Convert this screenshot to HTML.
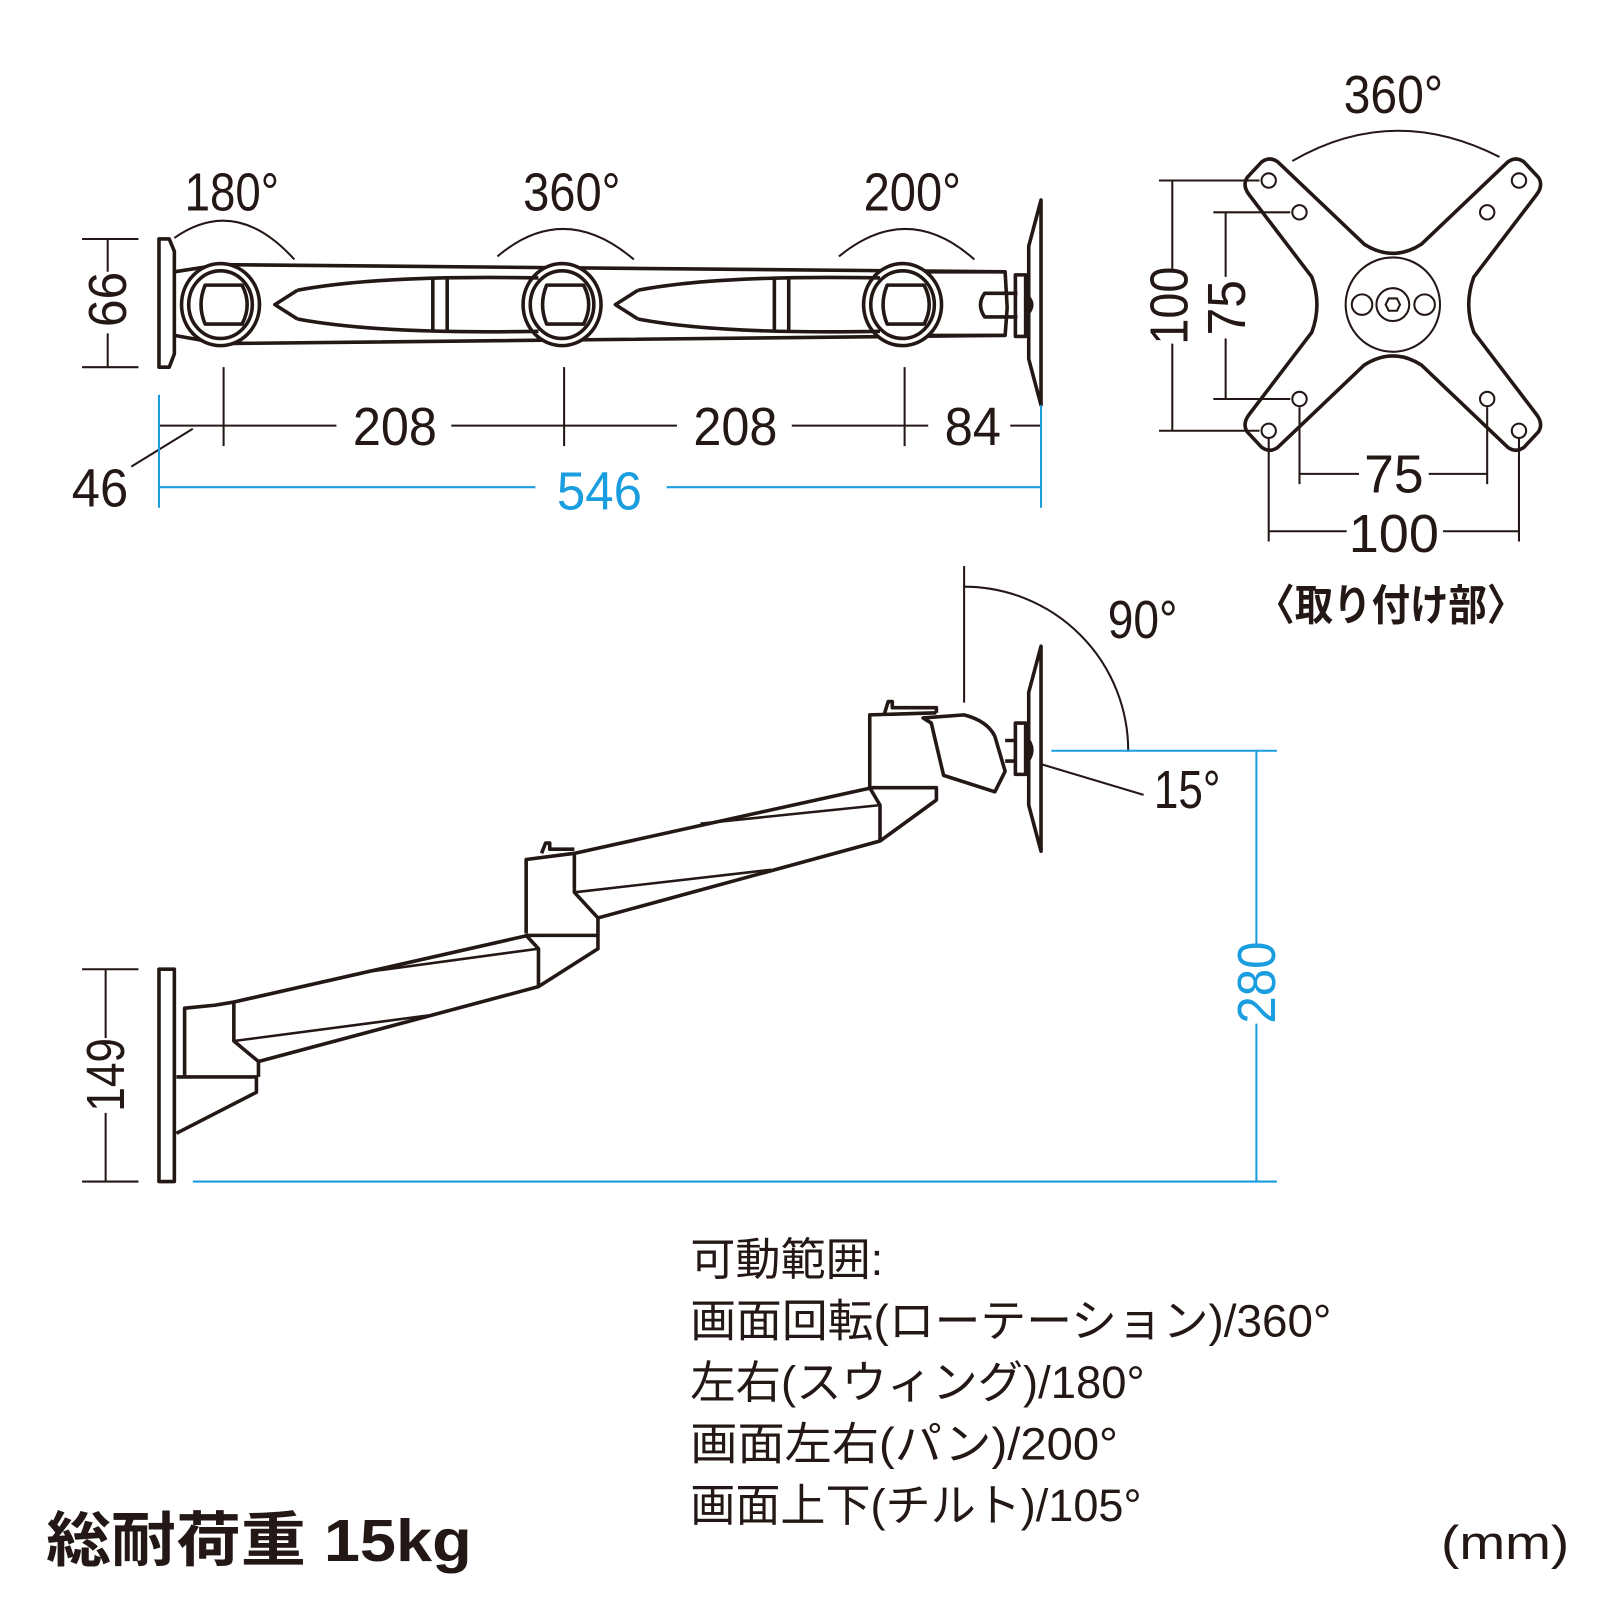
<!DOCTYPE html>
<html><head><meta charset="utf-8"><style>
html,body{margin:0;padding:0;background:#fff}
svg{display:block}
text{font-family:"Liberation Sans","Noto Sans CJK JP",sans-serif;fill:#231815}
.b{fill:#1a9ee0}
</style></head><body>
<svg width="1600" height="1600" viewBox="0 0 1560 1560" xmlns="http://www.w3.org/2000/svg">
<g fill="none" stroke="#231815" stroke-width="2">
<path d="M170,232 Q230,190 287,253"/>
<path d="M485,250 Q550,195 618,253"/>
<path d="M818,250 Q885,195 950,253"/>
<g stroke-width="3.5" stroke-linejoin="round">
<path d="M155,233 L165,233 L170,245 L170,345 L165,358 L155,358 Z"/>
<path d="M170,265 L215,258 L980,265 L982,300 L980,327 L215,335 L170,327"/>
<path d="M980,265 L905,265 M905,327 L980,327"/>
<ellipse cx="215" cy="297" rx="38" ry="40" fill="#fff"/>
<ellipse cx="215" cy="297" rx="31" ry="33"/>
<ellipse cx="548" cy="297" rx="38" ry="40" fill="#fff"/>
<ellipse cx="548" cy="297" rx="31" ry="33"/>
<ellipse cx="880" cy="297" rx="38" ry="40" fill="#fff"/>
<ellipse cx="880" cy="297" rx="31" ry="33"/>
<path d="M200,278 H236 Q246,297 236,316 H200 Q192,297 200,278 Z"/>
<path d="M533,278 H569 Q579,297 569,316 H533 Q525,297 533,278 Z"/>
<path d="M865,278 H901 Q911,297 901,316 H865 Q857,297 865,278 Z"/>
<path d="M290,283 Q370,268 525,271 M290,311 Q370,326 525,323 M290,283 L268,297 L290,311"/>
<path d="M622,283 Q700,268 858,271 M622,311 Q700,326 858,323 M622,283 L600,297 L622,311"/>
<path d="M422,271 V323 M436,271 V323 M755,271 V323 M769,271 V323"/>
<path d="M992,286 H960 Q952,297 960,309 H992"/>
<rect x="990" y="268" width="10" height="60"/>
<path d="M1003,240 L1015,195 V395 L1003,350 Z"/>
<path d="M1000,287 Q1012,297 1000,308"/>
</g>
<path d="M80,233 H135 M80,358 H135 M105,233 V265 M105,325 V358"/>
<path d="M155,415 H328 M440,415 H660 M772,415 H905 M985,415 H1015"/>
<path d="M218,358 V435 M550,358 V435 M882,358 V435"/>
<path d="M128,455 L188,418"/>
<g stroke="#1a9ee0"><path d="M155,385 V495 M1015,395 V495 M155,475 H522 M650,475 H1015"/></g>
<path d="M1260,157 Q1358,100 1462,153"/>
<path stroke-width="3.5" stroke-linejoin="round" d="M1230,158 Q1238,152 1246,158 L1330,238 Q1358,256 1386,238 L1470,158 Q1478,152 1486,158 L1500,173 Q1505,181 1498,190 L1437,270 Q1427,297 1437,324 L1498,404 Q1505,413 1500,421 L1486,436 Q1478,442 1470,436 L1386,356 Q1358,338 1330,356 L1246,436 Q1238,442 1230,436 L1216,421 Q1211,413 1218,404 L1279,324 Q1289,297 1279,270 L1218,190 Q1211,181 1216,173 Z"/>
<circle cx="1237" cy="176" r="7"/><circle cx="1481" cy="176" r="7"/><circle cx="1237" cy="420" r="7"/><circle cx="1481" cy="420" r="7"/>
<circle cx="1267" cy="207" r="7"/><circle cx="1450" cy="207" r="7"/><circle cx="1267" cy="389" r="7"/><circle cx="1450" cy="389" r="7"/>
<circle cx="1358" cy="297" r="46"/><circle cx="1328" cy="297" r="10"/><circle cx="1389" cy="297" r="10"/><circle cx="1358" cy="297" r="16"/>
<path d="M1351,297 L1354,291 H1362 L1365,297 L1362,303 H1354 Z"/>
<path d="M1130,176 H1228 M1130,420 H1228 M1143,176 V262 M1143,335 V420"/>
<path d="M1183,207 H1258 M1183,389 H1258 M1195,207 V270 M1195,330 V389"/>
<path d="M1237,428 V528 M1481,428 V528 M1267,397 V472 M1450,397 V472"/>
<path d="M1267,462 H1325 M1393,462 H1450 M1237,518 H1313 M1407,518 H1481"/>
<g stroke-width="3.5" stroke-linejoin="round">
<rect x="155" y="945" width="15" height="207"/>
<path d="M172,1050 H250 V1065 L172,1105"/>
<path d="M180,1050 V983 L210,980 L228,977 L515,912"/>
<path d="M252,1050 V1035 L525,962 V925 L513,912 L583,912 V925 L525,962"/>
<path d="M228,977 V1015 L252,1035"/>
<path d="M228,1015 L418,990 M355,948 L525,925" stroke-width="2.5"/>
<path d="M513,910 V838 L560,832 L850,768"/>
<path d="M583,912 V895 L858,820 V785 L848,768 L913,768 V780 L858,820"/>
<path d="M560,832 V870 L583,895"/>
<path d="M560,870 L752,848 M683,803 L858,785" stroke-width="2.5"/>
<path d="M528,832 L532,822 L536,822 L536,828 L560,828"/>
<path d="M848,768 V697 L913,695 M862,697 L866,684 L870,684 L870,690 L913,690 V695"/>
<path d="M900,700 L940,697 Q963,703 970,718 L980,752 L970,772 L920,756 L908,705 Z"/>
<path d="M980,722 H990 M980,742 H990"/>
<rect x="990" y="705" width="10" height="50"/>
<path d="M1003,675 L1015,630 V830 L1003,785 Z"/>
<path d="M1000,718 Q1012,731 1000,745"/>
</g>
<path d="M940,552 V685"/>
<path d="M940,572 A160,160 0 0 1 1100,733"/>
<path d="M1015,745 L1115,775"/>
<path d="M80,945 H135 M80,1152 H135 M103,945 V1012 M103,1085 V1152"/>
<g stroke="#1a9ee0"><path d="M1025,732 H1245 M188,1152 H1245 M1225,732 V920 M1225,998 V1152"/></g>
</g>
<g font-size="52" lengthAdjust="spacingAndGlyphs">
<text x="180" y="205" textLength="92" lengthAdjust="spacingAndGlyphs">180°</text>
<text x="510" y="205" textLength="95" lengthAdjust="spacingAndGlyphs">360°</text>
<text x="842" y="205" textLength="95" lengthAdjust="spacingAndGlyphs">200°</text>
<text x="344" y="434" textLength="82" lengthAdjust="spacingAndGlyphs">208</text>
<text x="676" y="434" textLength="82" lengthAdjust="spacingAndGlyphs">208</text>
<text x="921" y="434" textLength="55" lengthAdjust="spacingAndGlyphs">84</text>
<text x="70" y="494" textLength="55" lengthAdjust="spacingAndGlyphs">46</text>
<text x="543" y="497" textLength="83" lengthAdjust="spacingAndGlyphs" class="b">546</text>
<text x="1310" y="110" textLength="97" lengthAdjust="spacingAndGlyphs">360°</text>
<text x="1330" y="480" textLength="58" lengthAdjust="spacingAndGlyphs">75</text>
<text x="1315" y="538" textLength="88" lengthAdjust="spacingAndGlyphs">100</text>
<text x="1080" y="622" textLength="68" lengthAdjust="spacingAndGlyphs">90°</text>
<text x="1125" y="788" textLength="65" lengthAdjust="spacingAndGlyphs">15°</text>
<text transform="translate(123,292) rotate(-90)" x="-27" textLength="54" lengthAdjust="spacingAndGlyphs">66</text>
<text transform="translate(1158,298) rotate(-90)" x="-38" textLength="76" lengthAdjust="spacingAndGlyphs">100</text>
<text transform="translate(1214,300) rotate(-90)" x="-27" textLength="54" lengthAdjust="spacingAndGlyphs">75</text>
<text transform="translate(121,1048) rotate(-90)" x="-36" textLength="72" lengthAdjust="spacingAndGlyphs">149</text>
<text transform="translate(1243,958) rotate(-90)" x="-40" textLength="80" lengthAdjust="spacingAndGlyphs" class="b">280</text>
</g>
<text x="1225" y="605" font-size="42" font-weight="bold" textLength="262" lengthAdjust="spacingAndGlyphs">〈取り付け部〉</text>
<g font-size="44">
<text x="673" y="1243">可動範囲:</text>
<text x="673" y="1303" textLength="625" lengthAdjust="spacingAndGlyphs">画面回転(ローテーション)/360°</text>
<text x="673" y="1363" textLength="443" lengthAdjust="spacingAndGlyphs">左右(スウィング)/180°</text>
<text x="673" y="1423" textLength="417" lengthAdjust="spacingAndGlyphs">画面左右(パン)/200°</text>
<text x="673" y="1483" textLength="440" lengthAdjust="spacingAndGlyphs">画面上下(チルト)/105°</text>
</g>
<text x="45" y="1522" font-size="58" font-weight="bold" textLength="415" lengthAdjust="spacingAndGlyphs">総耐荷重 15kg</text>
<text x="1405" y="1520" font-size="46" textLength="125" lengthAdjust="spacingAndGlyphs">(mm)</text>
</svg>
</body></html>
